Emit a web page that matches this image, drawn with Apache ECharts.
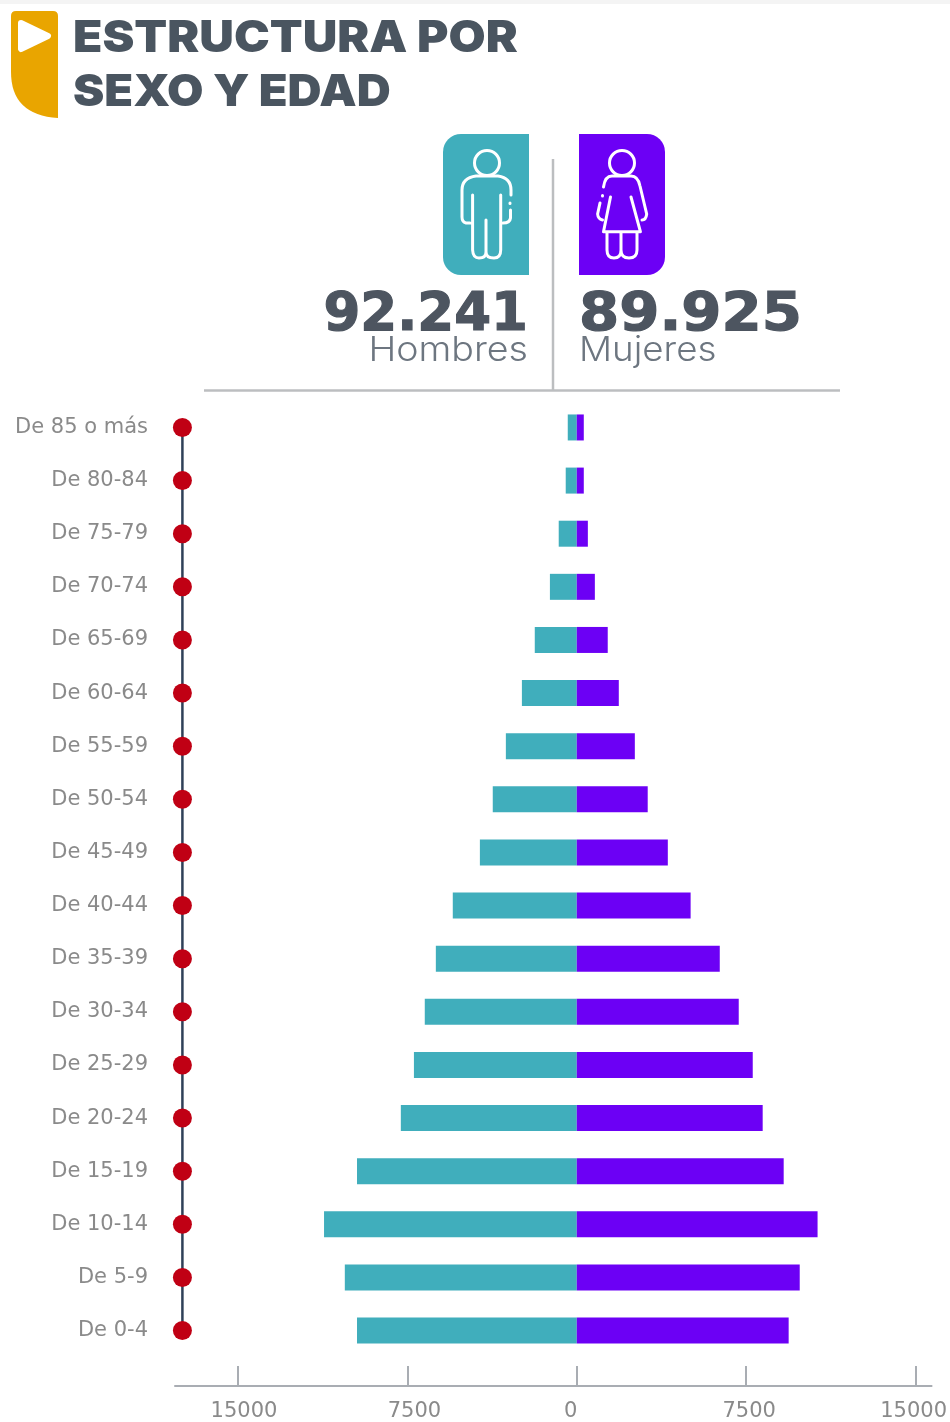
<!DOCTYPE html>
<html>
<head>
<meta charset="utf-8">
<style>html,body{margin:0;padding:0;background:#fff}#chart{width:950px;height:1422px}</style>
<script src="https://cdn.jsdelivr.net/npm/echarts@6/dist/echarts.min.js"></script>
</head>
<body>
<div id="chart"></div>
<script>
const categories = ['De 85 o más','De 80-84','De 75-79','De 70-74','De 65-69','De 60-64','De 55-59','De 50-54','De 45-49','De 40-44','De 35-39','De 30-34','De 25-29','De 20-24','De 15-19','De 10-14','De 5-9','De 0-4'];
const hombres = [400,490,800,1190,1860,2430,3140,3720,4290,5490,6240,6730,7210,7790,9730,11190,10270,9730];
const mujeres = [310,310,490,800,1370,1860,2570,3140,4030,5040,6330,7170,7790,8230,9160,10660,9870,9380];
const xTicks = [-15000,-7500,0,7500,15000];
const spine = categories.map(() => -17460);

const TEAL = '#40aebc', PURPLE = '#6c00f5', DARK = '#4a5560', GREY = '#bcbec0';
const iconStyle = {fill:'none', stroke:'#fff', lineWidth:3, lineCap:'round', lineJoin:'round'};
const badgePath = 'M16 11 L53 11 Q58 11 58 16 L58 118 Q11 115 11 72 L11 16 Q11 11 16 11 Z';
const manPath = 'M470 223 L466 223 Q462 222 462 217 L462 190 Q462 178 476 176 L498 176 Q511 178 511 190 L511 195 M510 203 L510 203.5 M510.5 210 L510.5 218 Q510 223 503 223 M472.6 195 L472.6 250 Q473 258 479 258 Q486 258 486 252 L486 220 M486 252 Q486 258 494 258 Q500.7 258 500.7 250 L500.7 195';
const womanPath = 'M603.5 187 Q605 176 612 176 L631 176 Q638 176 640 186 L646.7 214 Q646 220 642 220 M610.5 197 L603.5 231.7 L640.4 231.7 L631 197 M607 233 L607 250 Q607 258 614 258 Q621 258 621 250 L621 233 M621 250 Q621 258 629 258 Q637 258 637 250 L637 233 M602.5 195.5 L602.5 196 M600 203 L597.6 214 Q598 219 602.5 220';
echarts.graphic.registerShape('badgeShape', echarts.graphic.extendPath(badgePath, {}));
echarts.graphic.registerShape('manShape', echarts.graphic.extendPath(manPath, {}));
echarts.graphic.registerShape('womanShape', echarts.graphic.extendPath(womanPath, {}));

const graphics = [
  {type:'rect', shape:{x:0,y:0,width:950,height:4}, style:{fill:'#f4f4f4'}, silent:true},
  {type:'badgeShape', style:{fill:'#e9a500'}},
  {type:'polygon', shape:{points:[[21,23],[48,36],[21,49]]}, style:{fill:'#fff',stroke:'#fff',lineWidth:6,lineJoin:'round'}},
  {type:'text', x:73, y:39, scaleX:1.09, style:{text:'ESTRUCTURA POR', font:'900 44px Inter', fill:DARK, textVerticalAlign:'middle'}},
  {type:'text', x:73, y:93, scaleX:1.07, style:{text:'SEXO Y EDAD', font:'900 44px Inter', fill:DARK, textVerticalAlign:'middle'}},
  {type:'rect', shape:{x:443,y:134,width:86,height:141,r:[18,0,0,18]}, style:{fill:TEAL}},
  {type:'rect', shape:{x:579,y:134,width:86,height:141,r:[0,18,18,0]}, style:{fill:PURPLE}},
  {type:'ellipse', shape:{cx:487,cy:163,rx:12.5,ry:12.5}, style:iconStyle},
  {type:'ellipse', shape:{cx:622,cy:163,rx:12.5,ry:12.5}, style:iconStyle},
  {type:'manShape', style:iconStyle},
  {type:'womanShape', style:iconStyle},
  {type:'line', shape:{x1:553,y1:159,x2:553,y2:390}, style:{stroke:GREY,lineWidth:2.5}},
  {type:'line', shape:{x1:204,y1:390.5,x2:840,y2:390.5}, style:{stroke:GREY,lineWidth:2.5}},
  {type:'text', x:528, y:316, scaleX:1.0, style:{text:'92.241', font:'bold 53px "DejaVu Sans"', fill:'#4d5560', stroke:'#4d5560', lineWidth:1.2, textAlign:'right', textVerticalAlign:'middle'}},
  {type:'text', x:579, y:316, scaleX:1.09, style:{text:'89.925', font:'bold 53px "DejaVu Sans"', fill:'#4d5560', stroke:'#4d5560', lineWidth:1.2, textAlign:'left', textVerticalAlign:'middle'}},
  {type:'text', x:528, y:351, scaleX:1.105, style:{text:'Hombres', font:'300 34px Inter', fill:'#6d7680', textAlign:'right', textVerticalAlign:'middle'}},
  {type:'text', x:579, y:351, scaleX:1.08, style:{text:'Mujeres', font:'300 34px Inter', fill:'#6d7680', textAlign:'left', textVerticalAlign:'middle'}}
];

const labelKeys = {'-15000':'a','-7500':'b','0':'c','7500':'d','15000':'e'};

const chart = echarts.init(document.getElementById('chart'), null, {renderer:'canvas'});
chart.setOption({
  animation:false,
  backgroundColor:'#fff',
  grid:{left:175, width:757, top:400.9, height:956.2, containLabel:false},
  xAxis:{
    type:'value', min:-17788, max:15708, position:'bottom', offset:28.9,
    splitLine:{show:false},
    axisLine:{show:true, onZero:false, lineStyle:{color:'#a9adb3', width:2}},
    axisTick:{show:true, inside:true, length:20, customValues:xTicks, lineStyle:{color:'#a9adb3', width:2}},
    axisLabel:{
      show:true, customValues:xTicks, margin:15, color:'#8a8a8a',
      fontFamily:'DejaVu Sans', fontSize:21,
      formatter:v => '{' + labelKeys[v] + '|' + Math.abs(v) + '}',
      rich:{
        a:{padding:[0,0,0,12]}, b:{padding:[0,0,0,14]}, c:{padding:[0,12,0,0]},
        d:{padding:[0,0,0,6]}, e:{padding:[0,4,0,0]}
      }
    }
  },
  yAxis:{
    type:'category', inverse:true, data:categories,
    axisLine:{show:false}, axisTick:{show:false}, splitLine:{show:false},
    axisLabel:{margin:27, color:'#8a8a8a', fontFamily:'DejaVu Sans', fontSize:21}
  },
  series:[
    {type:'bar', name:'Hombres', stack:'p', data:hombres.map(v => -v), barWidth:26, itemStyle:{color:TEAL}, silent:true},
    {type:'bar', name:'Mujeres', stack:'p', data:mujeres, barWidth:26, itemStyle:{color:PURPLE}, silent:true},
    {type:'line', name:'Eje', data:spine, symbol:'circle', symbolSize:19, itemStyle:{color:'#c00014'}, lineStyle:{color:'#2f4058', width:2.5}, silent:true, z:3}
  ],
  graphic:{elements:graphics}
});
</script>
</body>
</html>
